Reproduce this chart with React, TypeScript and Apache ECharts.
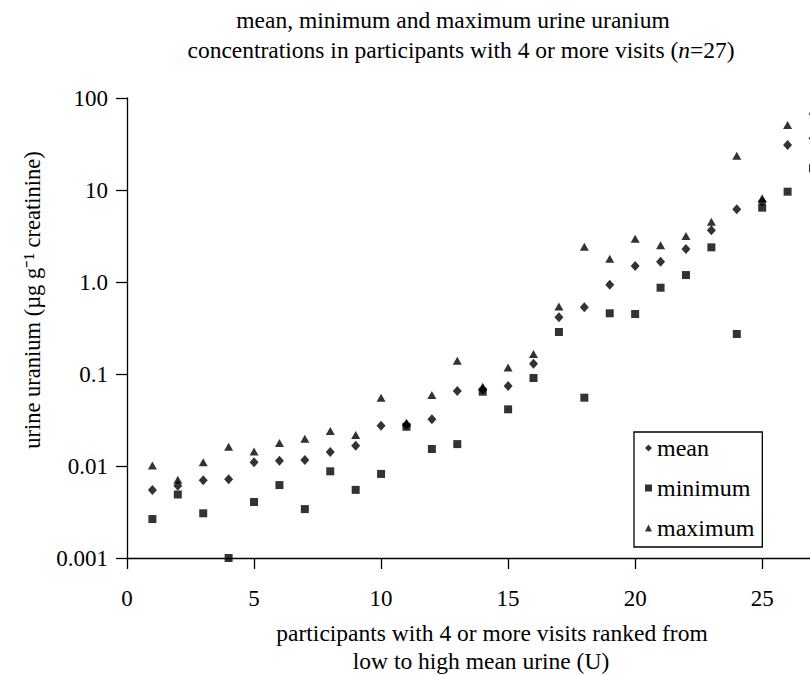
import React, { useEffect, useRef } from "react";
import * as echarts from "echarts";

const FONT = "Liberation Serif";

const participants = [1, 2, 3, 4, 5, 6, 7, 8, 9, 10, 11, 12, 13, 14, 15, 16, 17, 18, 19, 20, 21, 22, 23, 24, 25, 26, 27];
const meanValues = [0.0055, 0.0061, 0.007, 0.0072, 0.011, 0.0114, 0.0116, 0.0142, 0.0166, 0.0274, 0.028, 0.0322, 0.0653, 0.068, 0.074, 0.129, 0.413, 0.531, 0.935, 1.49, 1.66, 2.28, 3.65, 6.17, 7.46, 30.8, 36.5];
const minimumValues = [0.00265, 0.0049, 0.00306, 0.001, 0.00406, 0.0062, 0.0034, 0.00875, 0.0055, 0.0082, 0.0267, 0.0153, 0.0173, 0.0642, 0.0413, 0.0905, 0.286, 0.0553, 0.457, 0.449, 0.867, 1.19, 2.38, 0.272, 6.43, 9.59, 17.2];
const maximumValues = [0.0101, 0.0071, 0.011, 0.0162, 0.0144, 0.0178, 0.0198, 0.024, 0.0217, 0.0553, 0.0296, 0.059, 0.1396, 0.0728, 0.118, 0.165, 0.54, 2.42, 1.79, 2.96, 2.51, 3.16, 4.52, 23.6, 8.13, 50.9, 72.8];

const yTickLabels = ["0.001", "0.01", "0.1", "1.0", "10", "100"];
const xTickLabels = ["0", "5", "10", "15", "20", "25"];
const seriesNames = ["mean", "minimum", "maximum"];
const titleLine1 = "mean, minimum and maximum urine uranium";
const titleLine2 = "concentrations in participants with 4 or more visits (";
const xNameLines = ["participants with 4 or more visits ranked from", "low to high mean urine (U)"];
const yName = "urine uranium (µg g⁻¹ creatinine)";

export default function App() {
  const ref = useRef<HTMLDivElement>(null);
  useEffect(() => {
    document.body.style.margin = "0";
    if (!ref.current) return;
    const chart = echarts.init(ref.current, null, { renderer: "svg" });
    const pairs = (vals: number[]) => participants.map((p, i) => [p, vals[i]]);
    const axisLine = { show: true, lineStyle: { color: "#000", width: 1.3 } };
    const axisTick = { show: true, inside: false, length: 11, lineStyle: { color: "#000", width: 1.3 } };
    const txt = (x: number, y: number, text: string, extra: any = {}) => ({
      type: "text",
      x,
      y,
      ...extra,
      style: { text, fontSize: 23.5, fontFamily: FONT, fill: "#000", align: "center", verticalAlign: "middle", ...(extra.style || {}) },
    });
    chart.setOption({
      animation: false,
      textStyle: { fontFamily: FONT, color: "#000" },
      grid: { left: 127, top: 98, right: 0, bottom: 117, containLabel: false },
      xAxis: {
        type: "value",
        min: 0,
        max: 27,
        interval: 5,
        axisLine,
        axisTick,
        splitLine: { show: false },
        axisLabel: {
          fontSize: 23,
          fontFamily: FONT,
          color: "#000",
          margin: 29,
          showMaxLabel: false,
          formatter: (v: number) => (v % 5 === 0 ? xTickLabels[v / 5] : ""),
        },
      },
      yAxis: {
        type: "log",
        logBase: 10,
        min: 0.001,
        max: 100,
        axisLine,
        axisTick,
        splitLine: { show: false },
        minorTick: { show: false },
        axisLabel: {
          fontSize: 23,
          fontFamily: FONT,
          color: "#000",
          margin: 19,
          formatter: (v: number) => yTickLabels[Math.round(Math.log10(v)) + 3],
        },
      },
      legend: {
        orient: "vertical",
        left: 634,
        top: 432,
        data: seriesNames,
        borderColor: "#000",
        borderWidth: 1.3,
        padding: [4, 8, 7, 11],
        itemWidth: 7,
        itemHeight: 7,
        itemGap: 16,
        textStyle: { fontSize: 24, fontFamily: FONT, color: "#000", lineHeight: 24 },
      },
      series: [
        { name: seriesNames[0], type: "scatter", symbol: "diamond", symbolSize: [9, 10], itemStyle: { color: "#000" }, data: pairs(meanValues) },
        { name: seriesNames[1], type: "scatter", symbol: "rect", symbolSize: 8, itemStyle: { color: "#000" }, data: pairs(minimumValues) },
        { name: seriesNames[2], type: "scatter", symbol: "triangle", symbolSize: [9, 8], itemStyle: { color: "#000" }, data: pairs(maximumValues) },
      ],
      graphic: [
        txt(453, 20, titleLine1),
        txt(461, 50, titleLine2 + "{i|n}=27)", {
          style: { rich: { i: { fontStyle: "italic", fontSize: 23.5, fontFamily: FONT } } },
        }),
        txt(492, 633, xNameLines[0]),
        txt(481, 661, xNameLines[1]),
        txt(32, 300, yName, { rotation: Math.PI / 2, style: { fontSize: 22.5 } }),
      ],
    });
    return () => chart.dispose();
  }, []);
  return (
    <div style={{ width: 810, height: 675, overflow: "hidden" }}>
      <div ref={ref} style={{ width: 813, height: 675 }} />
    </div>
  );
}
